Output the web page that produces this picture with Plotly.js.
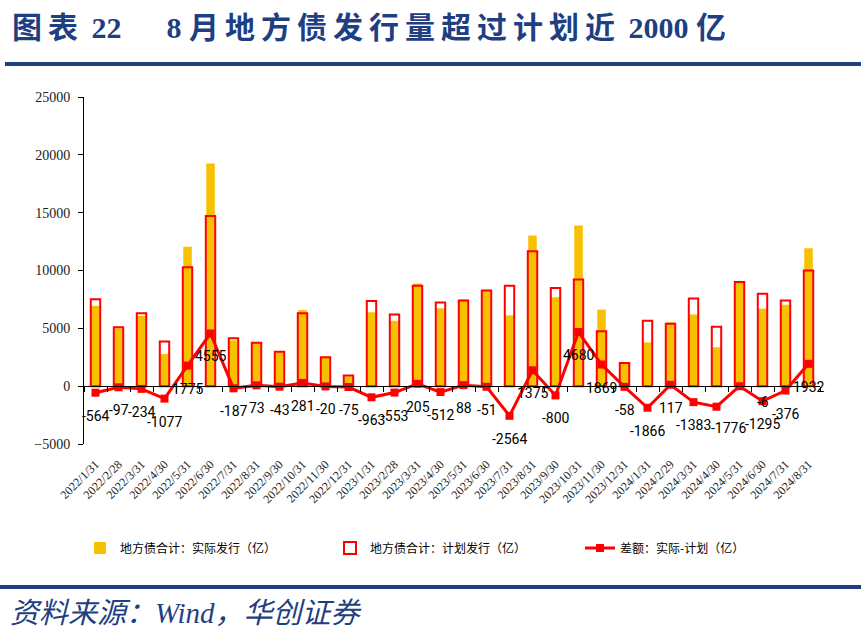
<!DOCTYPE html>
<html>
<head>
<meta charset="utf-8">
<script src="https://cdn.plot.ly/plotly-3.0.1.min.js"></script>
<style>
  html, body { margin: 0; padding: 0; background: #fff; }
  #chart { width: 867px; height: 637px; }
</style>
</head>
<body>
<div id="chart"></div>
<script>
// 地方债：实际发行 vs 计划发行（亿）

var months = ['2022/1/31', '2022/2/28', '2022/3/31', '2022/4/30', '2022/5/31', '2022/6/30', '2022/7/31', '2022/8/31',
    '2022/9/30', '2022/10/31', '2022/11/30', '2022/12/31', '2023/1/31', '2023/2/28', '2023/3/31', '2023/4/30',
    '2023/5/31', '2023/6/30', '2023/7/31', '2023/8/31', '2023/9/30', '2023/10/31', '2023/11/30', '2023/12/31',
    '2024/1/31', '2024/2/29', '2024/3/31', '2024/4/30', '2024/5/31', '2024/6/30', '2024/7/31', '2024/8/31'];

var actual = [6940, 5000, 6080, 2790, 12050, 19260, 3963, 3820,
    2930, 6590, 2490, 850, 6390, 5650, 8880, 6730,
    7500, 8225, 6115, 13030, 7680, 13900, 6620, 1935,
    3780, 5520, 6200, 3360, 8990, 6700, 7040, 11930];

var plan = [7504, 5097, 6314, 3867, 10275, 14705, 4150, 3747,
    2973, 6309, 2510, 925, 7353, 6203, 8675, 7242,
    7412, 8276, 8679, 11655, 8480, 9220, 4751, 1993,
    5646, 5403, 7583, 5136, 8996, 7995, 7416, 9998];

var diff = [-564, -97, -234, -1077, 1775, 4555, -187, 73,
    -43, 281, -20, -75, -963, -553, 205, -512,
    88, -51, -2564, 1375, -800, 4680, 1869, -58,
    -1866, 117, -1383, -1776, -6, -1295, -376, 1932];

var names = ['地方债合计：实际发行（亿）', '地方债合计：计划发行（亿）', '差额：实际-计划（亿）'];

// page geometry (px) -> paper coords
var W = 867, H = 637;
var M = {l: 84, r: 47, t: 97, b: 193};
var PW = W - M.l - M.r, PH = H - M.t - M.b;
function px(x) { return (x - M.l) / PW; }
function py(y) { return (H - M.b - y) / PH; }

var yMin = -5000, yMax = 25000;

var blue = '#1f3f82';
var red = '#ff0000';
var gold = '#f7c000';
var cjk = '"Noto Sans CJK SC", sans-serif';
var serif = '"Liberation Serif", "Times New Roman", serif';
var lblFont = '"Liberation Sans Narrow", "Arial Narrow", Roboto, sans-serif';

var barActual = {
    x: months,
    y: actual,
    type: 'bar',
    name: names[0],
    width: 0.37,
    marker: {color: gold, line: {width: 0}},
    hoverinfo: 'x+y'
};

var barPlan = {
    x: months,
    y: plan,
    type: 'bar',
    name: names[1],
    width: 0.41,
    marker: {color: 'rgba(0,0,0,0)', line: {color: red, width: 2}},
    hoverinfo: 'x+y'
};

var lineDiff = {
    x: months,
    y: diff,
    type: 'scatter',
    mode: 'lines+markers',
    name: names[2],
    xaxis: 'x2',
    line: {color: red, width: 3},
    marker: {symbol: 'square', size: 8, color: red}
};

// value labels under the markers
var labels = diff.map(function (v, i) {
    var a = {
        x: months[i], y: v, xref: 'x2', yref: 'y',
        text: String(v), showarrow: false,
        yshift: -23,
        font: {family: lblFont, size: 14, color: '#000'}
    };
    // a couple of labels were nudged sideways in the original
    if (v === -6) { a.xshift = 23; a.yshift = -16; }
    if (v === -1776) { a.xshift = 12; a.yshift = -21; }
    return a;
});

var sp = '<span style="letter-spacing:6px">';
var notes = [
    {xref: 'paper', yref: 'paper', x: px(10), y: py(27), xanchor: 'left', yanchor: 'middle', showarrow: false,
     text: '<b>' + sp + '图表</span> 22 　 8 ' + sp + '月地方债发行量超过计划近</span> 2000 亿</b>',
     font: {family: '"Liberation Serif", "Noto Sans CJK SC", serif', size: 30, color: blue}},
    {xref: 'paper', yref: 'paper', x: px(8), y: py(613), xanchor: 'left', yanchor: 'middle', showarrow: false,
     text: '<i>资料来源：Wind，华创证券</i>',
     font: {family: '"Liberation Serif", "Noto Sans CJK SC", serif', size: 29, color: blue}}
];

var layout = {
    width: W, height: H,
    margin: M,
    paper_bgcolor: '#fff',
    plot_bgcolor: '#fff',
    barmode: 'overlay',
    showlegend: true,
    legend: {
        orientation: 'h',
        x: px(80), y: py(548), xanchor: 'left', yanchor: 'middle',
        entrywidth: 205, entrywidthmode: 'pixels',
        font: {family: cjk, size: 12, color: '#000'},
        bgcolor: 'rgba(0,0,0,0)'
    },
    xaxis: {
        type: 'category',
        range: [-0.5, months.length - 0.5],
        showline: false, showgrid: false, zeroline: false,
        ticks: '', tickangle: -45,
        ticklabelstandoff: 10,
        tickfont: {family: serif, size: 12, color: '#222'}
    },
    xaxis2: {
        type: 'category',
        overlaying: 'x', matches: 'x',
        anchor: 'free', position: (0 - yMin) / (yMax - yMin),
        showline: true, linecolor: '#000', linewidth: 1,
        ticks: 'outside', tickson: 'boundaries', ticklen: 5, tickcolor: '#000',
        showticklabels: false, showgrid: false, zeroline: false
    },
    yaxis: {
        range: [yMin, yMax],
        dtick: 5000,
        tickformat: 'd',
        showline: true, linecolor: '#000', linewidth: 1,
        ticks: 'outside', ticklen: 5, tickcolor: '#000',
        ticklabelstandoff: 5,
        showgrid: false, zeroline: false,
        tickfont: {family: serif, size: 14, color: '#222'}
    },
    annotations: labels.concat(notes),
    shapes: [
        {type: 'line', xref: 'paper', yref: 'paper', x0: px(5), x1: px(861), y0: py(64), y1: py(64),
         line: {color: blue, width: 4}},
        {type: 'line', xref: 'paper', yref: 'paper', x0: px(0), x1: px(861), y0: py(587), y1: py(587),
         line: {color: blue, width: 4}}
    ]
};

Plotly.newPlot('chart', [barActual, barPlan, lineDiff], layout, {displayModeBar: false, staticPlot: true});
</script>
</body>
</html>
